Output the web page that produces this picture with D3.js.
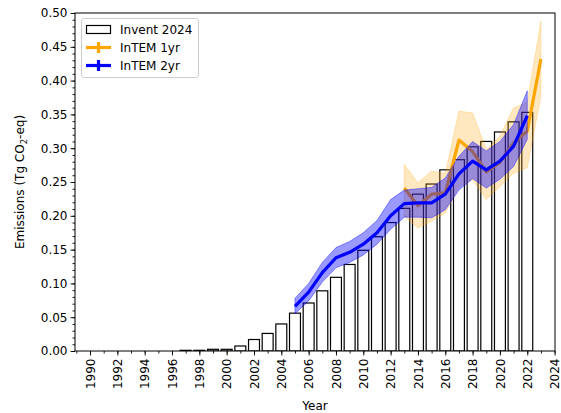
<html>
<head>
<style>
  body { margin: 0; background: #fff; }
  text { font-family: "DejaVu Sans", sans-serif; fill: #000; }
</style>
<script src="https://d3js.org/d3.v7.min.js"></script>
</head>
<body>
<svg width="561" height="413"></svg>
<script>
// Invent 2024 inventory (bars)
const inventYears = [1990, 1991, 1992, 1993, 1994, 1995, 1996, 1997, 1998, 1999, 2000, 2001, 2002, 2003, 2004, 2005,
  2006, 2007, 2008, 2009, 2010, 2011, 2012, 2013, 2014, 2015, 2016, 2017, 2018, 2019, 2020, 2021, 2022];
const inventValues = [0, 0, 0, 0, 0, 0, 0, 0.001, 0.001, 0.0025, 0.0025, 0.0074, 0.017, 0.026, 0.040, 0.056,
  0.071, 0.089, 0.109, 0.128, 0.149, 0.169, 0.190, 0.211, 0.232, 0.247, 0.268, 0.283, 0.302, 0.310, 0.324, 0.339, 0.353];

// InTEM 2yr
const intem2Years = [2005, 2006, 2007, 2008, 2009, 2010, 2011, 2012, 2013, 2014, 2015, 2016, 2017, 2018, 2019, 2020, 2021, 2022];
const intem2Mean  = [0.066, 0.087, 0.116, 0.138, 0.146, 0.158, 0.175, 0.200, 0.218, 0.219, 0.219, 0.232, 0.262, 0.281, 0.268, 0.281, 0.303, 0.348];
const intem2Upper = [0.078, 0.100, 0.131, 0.153, 0.162, 0.175, 0.193, 0.224, 0.238, 0.240, 0.242, 0.256, 0.288, 0.310, 0.296, 0.310, 0.335, 0.385];
const intem2Lower = [0.055, 0.074, 0.102, 0.123, 0.131, 0.142, 0.158, 0.180, 0.198, 0.198, 0.197, 0.209, 0.238, 0.255, 0.241, 0.254, 0.273, 0.313];

// InTEM 1yr
const intem1Years = [2013, 2014, 2015, 2016, 2017, 2018, 2019, 2020, 2021, 2022, 2023];
const intem1Mean  = [0.241, 0.215, 0.232, 0.234, 0.312, 0.295, 0.265, 0.279, 0.308, 0.325, 0.432];
const intem1Upper = [0.276, 0.249, 0.266, 0.263, 0.355, 0.352, 0.298, 0.318, 0.360, 0.368, 0.488];
const intem1Lower = [0.199, 0.182, 0.192, 0.204, 0.243, 0.253, 0.224, 0.243, 0.263, 0.271, 0.377];

const xTickLabels = [1990, 1992, 1994, 1996, 1998, 2000, 2002, 2004, 2006, 2008, 2010, 2012, 2014, 2016, 2018, 2020, 2022, 2024];
const yTickLabels = [0, 0.05, 0.10, 0.15, 0.20, 0.25, 0.30, 0.35, 0.40, 0.45, 0.50];

const mLeft = 75, mRight = 555, mTop = 13, mBottom = 351;
const svg = d3.select("svg");

const xs = d3.scaleLinear().domain([1988.9, 2024.03]).range([mLeft, mRight]);
const ys = d3.scaleLinear().domain([0, 0.5]).range([mBottom, mTop]);

svg.append("clipPath").attr("id", "plotclip")
  .append("rect").attr("x", mLeft).attr("y", mTop).attr("width", mRight - mLeft).attr("height", mBottom - mTop);

const plot = svg.append("g").attr("clip-path", "url(#plotclip)");

// bars
const barW = 0.8;
plot.append("g").selectAll("rect")
  .data(inventYears.map((y, i) => ({ year: y, v: inventValues[i] })))
  .enter().append("rect")
  .attr("x", d => xs(d.year - barW / 2))
  .attr("width", d => xs(d.year + barW / 2) - xs(d.year - barW / 2))
  .attr("y", d => ys(d.v))
  .attr("height", d => ys(0) - ys(d.v))
  .attr("fill", "white")
  .attr("stroke", "black")
  .attr("stroke-width", 1.2);

function band(years, lo, hi, color, op) {
  const area = d3.area().x((d, i) => xs(years[i])).y0((d, i) => ys(lo[i])).y1((d, i) => ys(hi[i]));
  plot.append("path").attr("d", area(years))
    .attr("fill", color).attr("fill-opacity", op)
    .attr("stroke", color).attr("stroke-opacity", op).attr("stroke-width", 1);
}
function line(years, vals, color) {
  const ln = d3.line().x((d, i) => xs(years[i])).y((d, i) => ys(vals[i]));
  plot.append("path").attr("d", ln(years))
    .attr("fill", "none").attr("stroke", color).attr("stroke-width", 3.2)
    .attr("stroke-linejoin", "round");
}

band(intem1Years, intem1Lower, intem1Upper, "orange", 0.25);
line(intem1Years, intem1Mean, "orange");
band(intem2Years, intem2Lower, intem2Upper, "blue", 0.4);
line(intem2Years, intem2Mean, "blue");

// axes
const yAxis = svg.append("g").attr("transform", "translate(" + mLeft + ",0)")
  .call(d3.axisLeft(ys).tickValues(yTickLabels).tickFormat(d3.format(".2f")).tickSize(4.5).tickPadding(3));
const yMinor = svg.append("g").attr("transform", "translate(" + mLeft + ",0)")
  .call(d3.axisLeft(ys).ticks(50).tickFormat("").tickSize(2.5));
const xAxis = svg.append("g").attr("transform", "translate(0," + mBottom + ")")
  .call(d3.axisBottom(xs).tickValues(xTickLabels).tickFormat(d3.format("d")).tickSize(4.5).tickPadding(3));
const xMinor = svg.append("g").attr("transform", "translate(0," + mBottom + ")")
  .call(d3.axisBottom(xs).tickValues(d3.range(1989, 2025)).tickFormat("").tickSize(2.5));

[yAxis, yMinor, xAxis, xMinor].forEach(a => {
  a.select(".domain").remove();
  a.selectAll("line").attr("stroke", "black").attr("stroke-width", 0.9);
});
yAxis.selectAll("text").attr("font-size", 12).attr("font-family", "DejaVu Sans").attr("fill", "#000");
xAxis.selectAll("text").attr("font-size", 12).attr("font-family", "DejaVu Sans").attr("fill", "#000")
  .attr("transform", "rotate(-90)")
  .attr("text-anchor", "end")
  .attr("x", -7.5).attr("y", 0).attr("dy", "0.35em");

// frame
svg.append("rect").attr("x", mLeft).attr("y", mTop).attr("width", mRight - mLeft).attr("height", mBottom - mTop)
  .attr("fill", "none").attr("stroke", "black").attr("stroke-width", 1);

// axis labels
svg.append("text").attr("x", (mLeft + mRight) / 2).attr("y", 410).attr("text-anchor", "middle")
  .attr("font-size", 12).text("Year");
const yl = svg.append("text").attr("transform", "translate(24," + (mTop + mBottom) / 2 + ") rotate(-90)")
  .attr("text-anchor", "middle").attr("font-size", 12);
yl.append("tspan").text("Emissions (Tg CO");
yl.append("tspan").attr("font-size", 8.5).attr("dy", 3).text("2");
yl.append("tspan").attr("dy", -3).text("-eq)");

// legend
const legend = svg.append("g").attr("id", "legend");
legend.append("rect").attr("x", 81.5).attr("y", 18.5).attr("width", 117).attr("height", 59).attr("rx", 3)
  .attr("fill", "white").attr("fill-opacity", 0.8).attr("stroke", "#cccccc").attr("stroke-width", 1);
const legendText = ["Invent 2024", "InTEM 1yr", "InTEM 2yr"];
const legendColors = ["black", "orange", "blue"];
legendText.forEach((t, i) => {
  const cy = 29.5 + i * 18;
  if (i === 0) {
    legend.append("rect").attr("x", 86.5).attr("y", cy - 4).attr("width", 24).attr("height", 8)
      .attr("fill", "white").attr("stroke", "black").attr("stroke-width", 1.2);
  } else {
    legend.append("line").attr("x1", 86).attr("x2", 111).attr("y1", cy).attr("y2", cy)
      .attr("stroke", legendColors[i]).attr("stroke-width", 3.2);
    legend.append("line").attr("x1", 98.5).attr("x2", 98.5).attr("y1", cy - 5.5).attr("y2", cy + 5.5)
      .attr("stroke", legendColors[i]).attr("stroke-width", 3.2);
  }
  legend.append("text").attr("x", 120).attr("y", cy).attr("dy", "0.35em").attr("font-size", 12).text(t);
});
</script>
</body>
</html>
